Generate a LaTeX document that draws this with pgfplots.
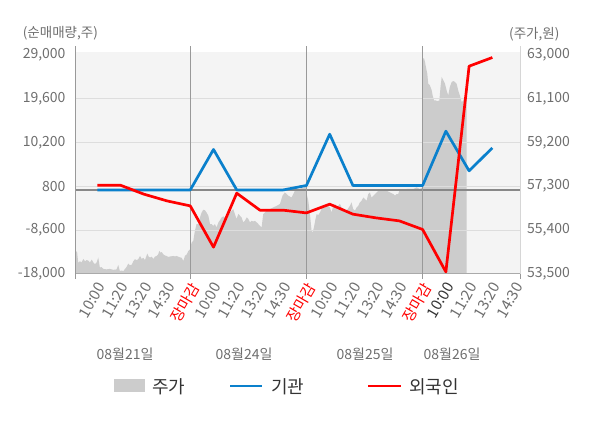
\documentclass[border=0pt]{standalone}
\usepackage{pgfplots}
\pgfplotsset{compat=1.18}
\usepackage{fontspec}
\setmainfont{Noto Sans CJK KR}
\definecolor{bgc}{HTML}{F4F4F4}
\definecolor{areac}{HTML}{CCCCCC}
\definecolor{gridc}{HTML}{DDDDDD}
\definecolor{zeroc}{HTML}{888888}
\definecolor{sepc}{HTML}{999999}
\definecolor{botax}{HTML}{AAAAAA}
\definecolor{leftax}{HTML}{999999}
\definecolor{rightax}{HTML}{D6D6D6}
\definecolor{lab}{HTML}{6E6E6E}
\definecolor{legt}{HTML}{333333}
\definecolor{bluec}{HTML}{0A80CC}
\definecolor{redc}{HTML}{FF0000}
\begin{document}
\begin{tikzpicture}
\path[use as bounding box] (0,0) rectangle (600pt,428pt);
% ---------- price axis (right) ----------
\begin{axis}[
  at={(75.7pt,154pt)}, anchor=south west,
  width=444.3pt, height=227.5pt, scale only axis,
  xmin=0.07, xmax=19.19, ymin=53500, ymax=63346,
  scaled y ticks=false, scaled x ticks=false,
  axis x line=none,
  axis y line*=right,
  y axis line style={-, draw=rightax, line width=1pt},
  ytick={53500,55400,57300,59200,61100,63000},
  yticklabels={{53,500},{55,400},{57,300},{59,200},{61,100},{63,000}},
  yticklabel style={anchor=west, inner sep=0pt, xshift=7pt, font=\fontsize{14}{14}\selectfont, text=lab},
  major tick length=0pt, tick style={draw=none},
  clip=false,
]
\fill[bgc] (axis cs:0.07,53500) rectangle (axis cs:19.19,63104);
\addplot[fill=areac, draw=none] table {
0.07 54500
0.13 54450
0.18 53990
0.25 54050
0.32 54000
0.40 54150
0.47 54050
0.54 54100
0.61 54080
0.68 54000
0.76 54120
0.83 54000
0.90 53920
0.97 54000
1.04 54210
1.11 53780
1.18 53800
1.26 53720
1.40 53700
1.54 53720
1.70 53680
1.83 53700
1.90 53890
1.97 53630
2.05 53650
2.12 53620
2.19 53720
2.26 53800
2.33 53950
2.40 53880
2.48 53900
2.55 54050
2.62 54140
2.69 54100
2.76 54140
2.84 54280
2.91 54150
2.98 54200
3.05 54100
3.15 54380
3.21 54250
3.27 54210
3.34 54250
3.41 54150
3.48 54250
3.55 54280
3.62 54350
3.67 54500
3.72 54420
3.77 54450
3.84 54350
3.91 54300
3.98 54280
4.05 54240
4.15 54260
4.27 54280
4.34 54260
4.41 54280
4.48 54250
4.56 54220
4.63 54200
4.70 54060
4.77 54280
4.85 54350
4.92 54500
4.99 54570
5.06 54860
5.13 54930
5.20 55370
5.27 55660
5.35 55660
5.42 55950
5.49 56160
5.56 56280
5.63 56260
5.70 56160
5.78 56020
5.85 55660
5.92 55660
5.99 55580
6.06 55660
6.13 55510
6.21 55730
6.28 55830
6.35 55950
6.42 55990
6.49 55950
6.56 55800
6.64 56020
6.71 56160
6.78 56240
6.85 56310
6.92 56100
6.99 55880
7.07 56100
7.14 56020
7.21 55950
7.28 55730
7.35 55800
7.43 55950
7.50 55880
7.57 55730
7.64 55800
7.71 55770
7.78 55800
7.86 55730
7.93 55660
8.00 55580
8.07 55510
8.14 56090
8.21 56160
8.29 56240
8.43 56310
8.57 56380
8.72 56450
8.86 56530
8.97 56890
9.07 57030
9.15 56960
9.22 56890
9.36 56810
9.50 57100
9.57 57150
9.65 57200
9.72 57180
9.80 57250
9.87 57220
9.95 57280
10.00 57250
10.01 56960
10.08 56670
10.15 56090
10.22 55370
10.27 55300
10.32 55510
10.39 55880
10.44 56090
10.51 56050
10.58 56160
10.65 56310
10.72 56380
10.78 56450
10.87 56530
10.94 56450
11.01 56380
11.08 56160
11.15 56450
11.23 56530
11.30 56380
11.37 56450
11.44 56530
11.51 56380
11.58 56310
11.73 56240
11.87 56450
11.94 56600
12.01 56310
12.09 56240
12.16 56380
12.23 56450
12.30 56600
12.37 56670
12.45 56810
12.52 56740
12.59 56670
12.66 56960
12.73 57030
12.80 56810
12.88 56890
12.95 56960
13.02 57030
13.09 57100
13.16 57100
13.23 57180
13.31 57140
13.38 57180
13.45 57100
13.59 57030
13.74 56960
13.81 56890
13.88 56960
13.95 56960
14.02 57180
14.17 57100
14.31 57180
14.45 57180
14.60 57180
14.74 57250
14.88 57180
15.00 57250
15.01 62830
15.06 62830
15.10 62680
15.14 62460
15.20 62170
15.24 61740
15.31 61670
15.39 61450
15.43 61230
15.49 61010
15.57 61010
15.63 60980
15.72 61010
15.77 61590
15.82 62030
15.89 61880
15.96 61740
16.03 61450
16.10 61230
16.17 61590
16.25 61810
16.32 61850
16.39 61810
16.46 61740
16.53 61450
16.60 61230
16.68 60940
16.75 61010
16.82 61160
16.89 61230
} \closedcycle;
\end{axis}
% ---------- flow axis (left) ----------
\begin{axis}[
  at={(75.7pt,154pt)}, anchor=south west,
  width=444.3pt, height=227.5pt, scale only axis,
  xmin=0.07, xmax=19.19, ymin=-18000, ymax=30708,
  scaled y ticks=false, scaled x ticks=false,
  axis x line*=bottom, axis y line*=left,
  x axis line style={-, draw=botax, line width=1pt},
  y axis line style={-, draw=leftax, line width=1pt},
  xtick={1,...,19},
  xticklabels={10:00,11:20,13:20,14:30,\textcolor{red}{장마감},10:00,11:20,13:20,14:30,\textcolor{red}{장마감},10:00,11:20,13:20,14:30,\textcolor{red}{장마감},\textcolor{legt}{10:00},11:20,13:20,14:30},
  xticklabel style={xshift=-1pt, yshift=-7pt, rotate=60, anchor=north east, inner sep=0pt, font=\fontsize{15}{15}\selectfont, text=lab},
  ytick={-18000,-8600,800,10200,19600,29000},
  yticklabels={{-18,000},{-8,600},{800},{10,200},{19,600},{29,000}},
  yticklabel style={anchor=east, inner sep=0pt, xshift=-10pt, font=\fontsize{14}{14}\selectfont, text=lab},
  major tick length=0pt, tick style={draw=none},
  clip=false,
]
\draw[gridc, line width=1pt] (axis cs:0.07,-8600) -- (axis cs:19.19,-8600);
\draw[gridc, line width=1pt] (axis cs:0.07,800) -- (axis cs:19.19,800);
\draw[gridc, line width=1pt] (axis cs:0.07,10200) -- (axis cs:19.19,10200);
\draw[gridc, line width=1pt] (axis cs:0.07,19600) -- (axis cs:19.19,19600);
\draw[zeroc, line width=1.2pt] (axis cs:0.07,0) -- (axis cs:19.19,0);
\draw[sepc, line width=1pt] ([yshift=-5pt]axis cs:5,-18000) -- (axis cs:5,30708);
\draw[sepc, line width=1pt] ([yshift=-5pt]axis cs:10,-18000) -- (axis cs:10,30708);
\draw[sepc, line width=1pt] ([yshift=-5pt]axis cs:15,-18000) -- (axis cs:15,30708);
\draw[sepc, line width=1pt] ([yshift=-5pt]axis cs:0.07,-18000) -- (axis cs:0.07,-18000);
\draw[sepc, line width=1pt] ([yshift=-5pt]axis cs:19.19,-18000) -- (axis cs:19.19,-18000);
\addplot[bluec, line width=2.7pt, line join=round] coordinates {
(1,0) (2,0) (3,0) (4,0) (5,0)
(6,8660) (7,0) (8,0) (9,0) (10,950)
(11,11930) (12,950) (13,950) (14,950) (15,950)
(16,12575) (17,4080) (18,9000)
};
\addplot[redc, line width=2.7pt, line join=round] coordinates {
(1,1000) (2,1000) (3,-900) (4,-2350) (5,-3420)
(6,-12260) (7,-700) (8,-4340) (9,-4340) (10,-4920)
(11,-3050) (12,-5190) (13,-5990) (14,-6630) (15,-8470)
(16,-17550) (17,26490) (18,28350)
};
\end{axis}
% ---------- titles, dates, legend ----------
\node[anchor=west, inner sep=0pt, text=lab, font=\fontsize{13.5}{14}\selectfont] at (22.7pt,395pt) {(순매매량,주)};
\node[anchor=west, inner sep=0pt, text=lab, font=\fontsize{13.5}{14}\selectfont] at (509pt,394pt) {(주가,원)};
\node[inner sep=0pt, text=lab, font=\fontsize{14}{14}\selectfont] at (125pt,74pt) {08월21일};
\node[inner sep=0pt, text=lab, font=\fontsize{14}{14}\selectfont] at (244pt,74pt) {08월24일};
\node[inner sep=0pt, text=lab, font=\fontsize{14}{14}\selectfont] at (365pt,74pt) {08월25일};
\node[inner sep=0pt, text=lab, font=\fontsize{14}{14}\selectfont] at (452pt,74pt) {08월26일};
\fill[areac] (114pt,36pt) rectangle (145pt,49pt);
\node[anchor=west, inner sep=0pt, text=legt, font=\fontsize{18}{18}\selectfont] at (152pt,41.5pt) {주가};
\draw[bluec, line width=2.5pt] (230pt,42pt) -- (262pt,42pt);
\node[anchor=west, inner sep=0pt, text=legt, font=\fontsize{18}{18}\selectfont] at (271pt,41.5pt) {기관};
\draw[redc, line width=2.5pt] (368pt,42pt) -- (401pt,42pt);
\node[anchor=west, inner sep=0pt, text=legt, font=\fontsize{18}{18}\selectfont] at (409pt,41.5pt) {외국인};
\end{tikzpicture}
\end{document}
